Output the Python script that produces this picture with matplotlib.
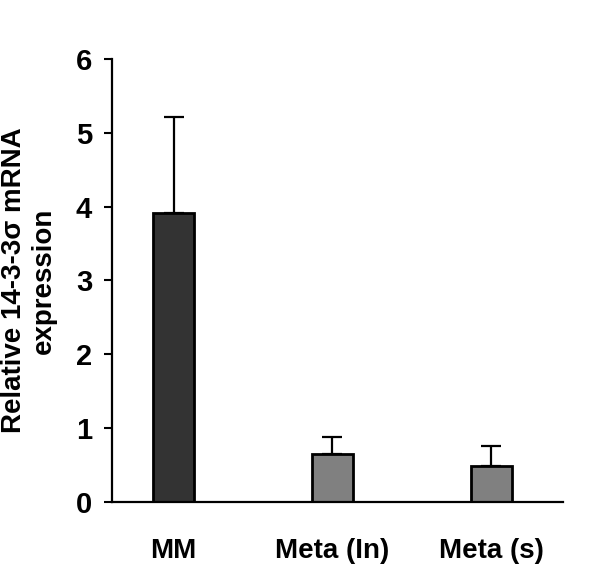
import matplotlib
matplotlib.use('Agg')
from matplotlib import pyplot as plt

plt.rcParams['font.family'] = ['Liberation Sans', 'DejaVu Sans']

# dados
grupos = ['MM', 'Meta (In)', 'Meta (s)']
valores = [3.92, 0.64, 0.49]
erros = [1.30, 0.24, 0.27]
cores = ['#333333', '#808080', '#808080']

fig = plt.figure(figsize=(6, 5.68), dpi=100)
ax = fig.add_axes([0.186, 0.1167, 0.752, 0.7793])

x = list(range(len(grupos)))
ax.bar(x, valores, width=0.26, color=cores, edgecolor='black', linewidth=2.0, zorder=2)
ax.errorbar(x, valores, yerr=[[0] * len(erros), erros], fmt='none', ecolor='black',
            elinewidth=1.6, capsize=7.2, capthick=1.6, zorder=1)

ax.set_xlim(-0.39, 2.45)
ax.set_ylim(0, 6)
ax.set_yticks(range(0, 7))
ax.set_xticks(x)
ax.set_xticklabels(grupos, fontsize=20, fontweight='bold')
ax.tick_params(axis='x', length=0, pad=26)
ax.tick_params(axis='y', length=6, width=1.5, labelsize=21, pad=8)
for lab in ax.get_yticklabels():
    lab.set_fontweight('bold')

ax.spines['top'].set_visible(False)
ax.spines['right'].set_visible(False)
ax.spines['left'].set_linewidth(1.6)
ax.spines['bottom'].set_linewidth(1.6)

ax.set_ylabel('Relative 14-3-3σ mRNA\nexpression', fontsize=20, fontweight='bold',
              linespacing=1.15, labelpad=14)

fig.savefig('out.png', dpi=100)
